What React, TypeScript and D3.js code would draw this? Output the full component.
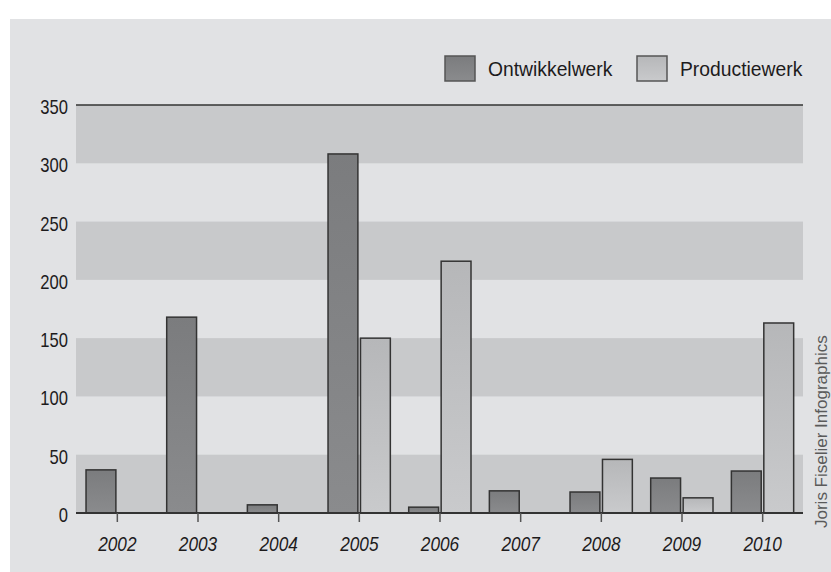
import React, { useEffect, useRef } from 'react'
import * as d3 from 'd3'

// data
const years = ['2002', '2003', '2004', '2005', '2006', '2007', '2008', '2009', '2010']
const ontwikkelwerk = [37, 168, 7, 308, 5, 19, 18, 30, 36]
const productiewerk = [0, 0, 0, 150, 216, 0, 46, 13, 163]
const seriesNames = ['Ontwikkelwerk', 'Productiewerk']
const yTicks = [0, 50, 100, 150, 200, 250, 300, 350]

const W = 831
const H = 572
// no condensed face installed, so Liberation Sans is squeezed horizontally
const FONT = '"Liberation Sans", Arial, sans-serif'

const x = d3.scaleBand<string>().domain(years).range([77, 803])
const y = d3.scaleLinear().domain([0, 350]).range([513, 105])
const x1 = d3
  .scaleBand<string>()
  .domain(seriesNames)
  .range([x.bandwidth() / 2 - 31.3, x.bandwidth() / 2 + 31])
  .paddingInner(0.08)

const App = () => {
  const ref = useRef<SVGSVGElement>(null)

  useEffect(() => {
    const svg = d3.select(ref.current)
    svg.selectAll('*').remove()

    const defs = svg.append('defs')
    const grad = (id: string, top: string, bottom: string) => {
      const g = defs
        .append('linearGradient')
        .attr('id', id)
        .attr('x1', 0)
        .attr('y1', 0)
        .attr('x2', 0)
        .attr('y2', 1)
      g.append('stop').attr('offset', '0%').attr('stop-color', top)
      g.append('stop').attr('offset', '100%').attr('stop-color', bottom)
    }
    grad('gDark', '#7b7c7e', '#8a8b8d')
    grad('gLight', '#b6b7b9', '#c9cacc')

    // panel
    svg.append('rect').attr('x', 10).attr('y', 19).attr('width', W - 10).attr('height', H - 19).attr('fill', '#e1e2e4')

    // alternating bands
    const bands = [0, 100, 200, 300]
    svg
      .append('g')
      .selectAll('rect')
      .data(bands)
      .join('rect')
      .attr('x', 76)
      .attr('width', 803 - 76)
      .attr('y', (d) => y(d + 50))
      .attr('height', (d) => y(d) - y(d + 50))
      .attr('fill', '#c8c9cb')

    // top line
    svg.append('line').attr('x1', 76).attr('x2', 803).attr('y1', y(350)).attr('y2', y(350)).attr('stroke', '#333').attr('stroke-width', 1.5)

    // y labels
    svg
      .append('g')
      .selectAll('text')
      .data(yTicks)
      .join('text')
      .attr('transform', (d) => `translate(68,${y(d) + 9}) scale(0.83,1)`)
      .attr('text-anchor', 'end')
      .attr('font-family', FONT)
      .attr('font-size', 20)
      .attr('fill', '#1d1b1c')
      .text((d) => d)

    // bars
    const groups = svg
      .append('g')
      .selectAll('g')
      .data(years)
      .join('g')
      .attr('transform', (d) => `translate(${x(d)},0)`)

    groups
      .selectAll('rect')
      .data((d) => [
        { key: 'Ontwikkelwerk', v: ontwikkelwerk[years.indexOf(d)] },
        { key: 'Productiewerk', v: productiewerk[years.indexOf(d)] },
      ])
      .join('rect')
      .attr('x', (d) => x1(d.key)!)
      .attr('width', x1.bandwidth())
      .attr('y', (d) => y(d.v))
      .attr('height', (d) => y(0) - y(d.v))
      .attr('fill', (d) => (d.key === 'Ontwikkelwerk' ? 'url(#gDark)' : 'url(#gLight)'))
      .attr('stroke', '#333')
      .attr('stroke-width', 1.5)

    // zero line
    svg.append('line').attr('x1', 76).attr('x2', 803).attr('y1', y(0)).attr('y2', y(0)).attr('stroke', '#333').attr('stroke-width', 2)

    // x ticks and labels
    const xa = svg.append('g')
    xa.selectAll('line')
      .data(years)
      .join('line')
      .attr('x1', (d) => x(d)! + x.bandwidth() / 2)
      .attr('x2', (d) => x(d)! + x.bandwidth() / 2)
      .attr('y1', y(0))
      .attr('y2', y(0) + 9)
      .attr('stroke', '#555')
      .attr('stroke-width', 1.5)
    xa.selectAll('text')
      .data(years)
      .join('text')
      .attr('transform', (d) => `translate(${x(d)! + x.bandwidth() / 2},551) scale(0.82,1)`)
      .attr('text-anchor', 'middle')
      .attr('font-family', FONT)
      .attr('font-style', 'italic')
      .attr('font-size', 21)
      .attr('fill', '#1d1b1c')
      .text((d) => d)

    // legend
    const legend = [
      { name: seriesNames[0], bx: 445, tx: 488, fill: 'url(#gDark)' },
      { name: seriesNames[1], bx: 637, tx: 680, fill: 'url(#gLight)' },
    ]
    const lg = svg.append('g').selectAll('g').data(legend).join('g')
    lg.append('rect')
      .attr('x', (d) => d.bx)
      .attr('y', 56)
      .attr('width', 30)
      .attr('height', 25)
      .attr('fill', (d) => d.fill)
      .attr('stroke', '#555')
      .attr('stroke-width', 1.5)
    lg.append('text')
      .attr('transform', (d) => `translate(${d.tx},76) scale(0.92,1)`)
      .attr('font-family', FONT)
      .attr('font-size', 21)
      .attr('fill', '#1d1b1c')
      .text((d) => d.name)

    // credit along the right edge
    svg
      .append('text')
      .attr('transform', 'translate(827,528) rotate(-90)')
      .attr('font-family', FONT)
      .attr('font-size', 17)
      .attr('fill', '#5a5a5a')
      .text('Joris Fiselier Infographics')
  }, [])

  return <svg ref={ref} width={W} height={H} style={{ position: 'absolute', left: 0, top: 0 }} />
}

export default App
